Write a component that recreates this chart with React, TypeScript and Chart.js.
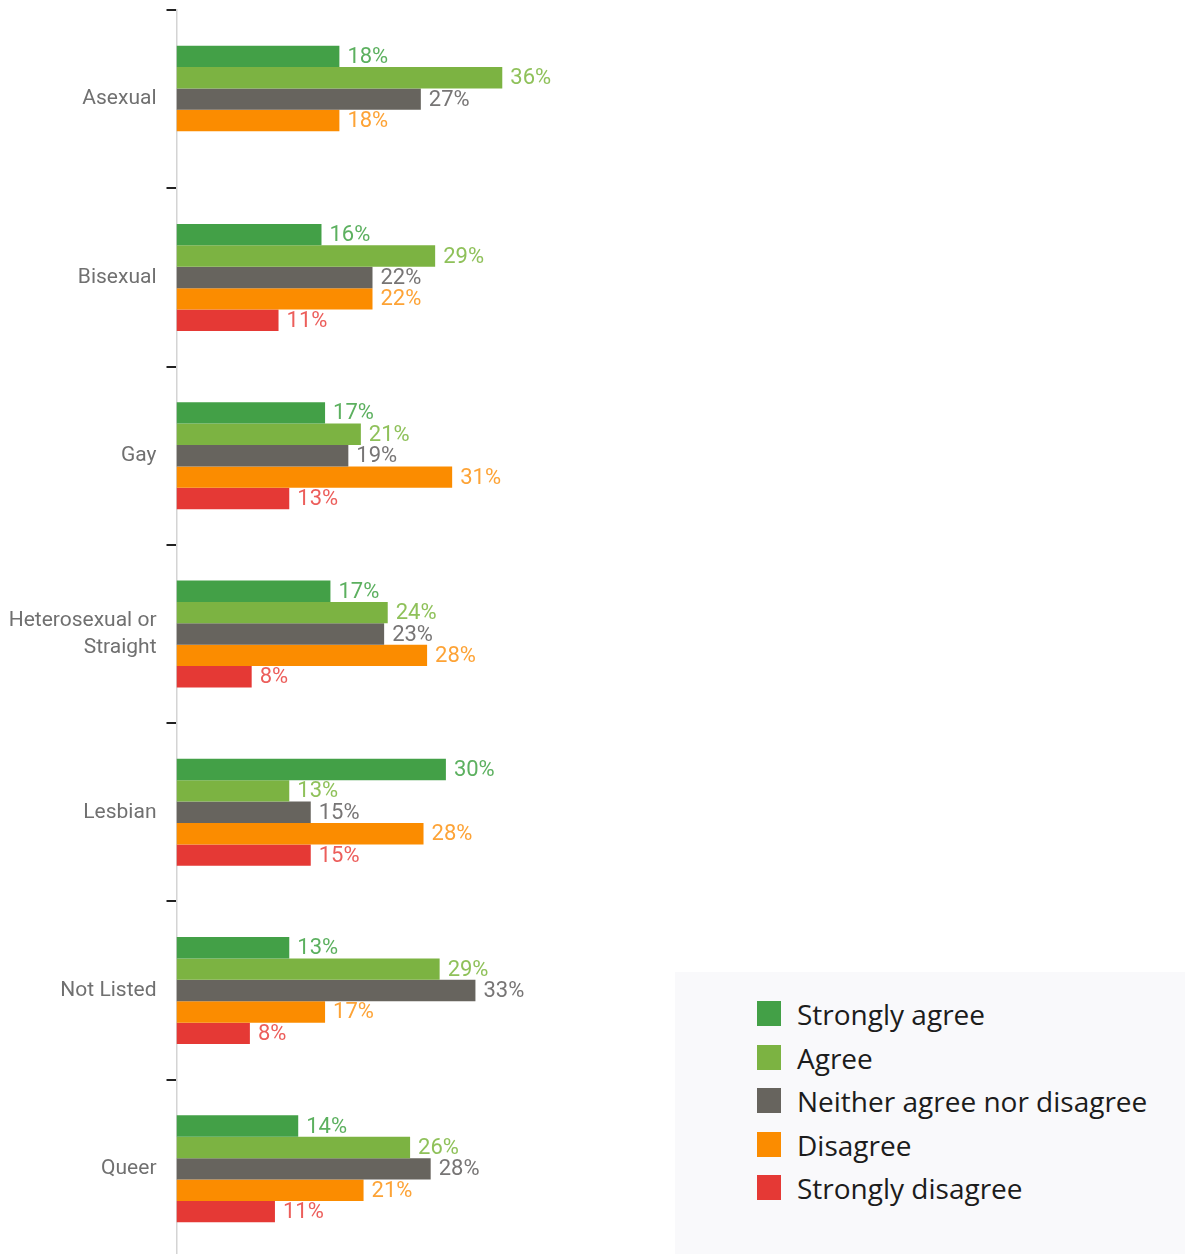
import React, { useEffect, useRef } from "react";
import { Chart, registerables } from "chart.js";

Chart.register(...registerables);

const categories: string[][] = [
  ["Asexual"],
  ["Bisexual"],
  ["Gay"],
  ["Heterosexual or", "Straight"],
  ["Lesbian"],
  ["Not Listed"],
  ["Queer"],
];

const seriesNames = [
  "Strongly agree",
  "Agree",
  "Neither agree nor disagree",
  "Disagree",
  "Strongly disagree",
];

const stronglyAgree = [18.2, 16.2, 16.6, 17.2, 30.1, 12.6, 13.6];
const agree = [36.4, 28.9, 20.6, 23.6, 12.6, 29.4, 26.1];
const neither = [27.3, 21.9, 19.2, 23.2, 15.0, 33.4, 28.4];
const disagree = [18.2, 21.9, 30.8, 28.0, 27.6, 16.6, 20.9];
const stronglyDisagree = [null, 11.4, 12.6, 8.4, 15.0, 8.2, 11.0];

const barColors = ["#43a047", "#7cb342", "#67645e", "#fb8c00", "#e53935"];
const labelColors = ["#5cb05f", "#8fc15a", "#777575", "#fda336", "#ec5e5b"];

const W = 1185;
const H = 1262;

const valueLabels = {
  id: "valueLabels",
  afterDatasetsDraw(chart: any) {
    const ctx = chart.ctx;
    ctx.save();
    ctx.font = "400 22px Roboto, 'Noto Sans', sans-serif";
    ctx.textBaseline = "middle";
    ctx.textAlign = "left";
    chart.data.datasets.forEach((ds: any, i: number) => {
      const meta = chart.getDatasetMeta(i);
      meta.data.forEach((el: any, j: number) => {
        const v = ds.data[j];
        if (v === null || v === undefined) return;
        ctx.fillStyle = labelColors[i];
        ctx.fillText(Math.round(v) + "%", el.x + 8, el.y + 1);
      });
    });
    ctx.restore();
  },
};

export default function App() {
  const ref = useRef<HTMLCanvasElement | null>(null);

  useEffect(() => {
    document.body.style.margin = "0";
    const canvas = ref.current!;
    const seriesData = [stronglyAgree, agree, neither, disagree, stronglyDisagree];
    const chart = new Chart(canvas, {
      type: "bar",
      data: {
        labels: categories,
        datasets: seriesData.map((d, i) => ({
          label: seriesNames[i],
          data: d as any,
          backgroundColor: barColors[i],
          borderWidth: 0,
          categoryPercentage: 0.6,
          barPercentage: 1.0,
        })),
      },
      options: {
        indexAxis: "y",
        responsive: false,
        animation: false,
        devicePixelRatio: 1,
        layout: { padding: { top: 10, bottom: 4, left: 0, right: W - 1071.5 } },
        plugins: {
          legend: { display: false },
          tooltip: { enabled: false },
        },
        scales: {
          x: { display: false, min: 0, max: 100 },
          y: {
            afterFit: (scale: any) => {
              scale.width = 176.5;
              scale.paddingTop = 0;
              scale.paddingBottom = 0;
            },
            border: { display: true, color: "#d4d4d4", width: 1.5 },
            grid: {
              offset: true,
              drawOnChartArea: false,
              drawTicks: true,
              tickLength: 10,
              color: "#222222",
              lineWidth: 2,
            },
            ticks: {
              color: "#707070",
              padding: 10,
              font: { family: "Roboto, 'Noto Sans', sans-serif", size: 21, weight: "400" as any, lineHeight: 1.3 },
            },
          },
        },
      },
      plugins: [valueLabels],
    });
    return () => chart.destroy();
  }, []);

  const legendTop = 1001;
  const rowGap = 43.5;

  return (
    <div style={{ position: "relative", width: W, height: 1254, overflow: "hidden", background: "#fff" }}>
      <canvas ref={ref} width={W} height={H} style={{ display: "block", width: W, height: H }} />
      <div
        style={{
          position: "absolute",
          left: 675,
          top: 972,
          width: 510,
          height: 290,
          background: "#f9f9fb",
        }}
      >
        {seriesNames.map((name, i) => (
          <div
            key={name}
            style={{
              position: "absolute",
              left: 82,
              top: legendTop - 972 + i * rowGap,
              height: 25,
              display: "flex",
              alignItems: "center",
              whiteSpace: "nowrap",
            }}
          >
            <div style={{ width: 24, height: 25, background: barColors[i], marginRight: 16, flex: "none" }} />
            <span
              style={{
                fontFamily: "'Open Sans', 'Noto Sans', sans-serif",
                fontSize: 28,
                color: "#1c1c1c",
                lineHeight: "25px",
                position: "relative",
                top: 1,
              }}
            >
              {name}
            </span>
          </div>
        ))}
      </div>
    </div>
  );
}
